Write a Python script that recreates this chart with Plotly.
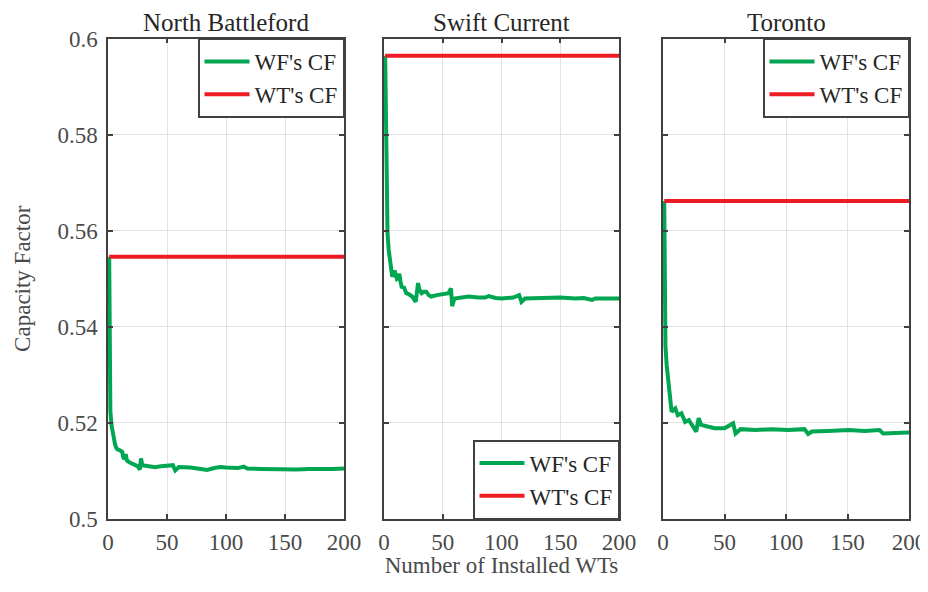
import plotly.graph_objects as go

# ---------------- data ----------------
locations = ["North Battleford", "Swift Current", "Toronto"]
wt_cf = [0.5546, 0.5964, 0.5662]  # single wind turbine capacity factor

n_nb = [1, 2, 3, 4, 5, 6, 7, 8, 10, 12, 13, 14, 15, 16, 18, 20, 22, 25, 27, 28,
        29, 31, 35, 40, 45, 50, 55, 57, 60, 70, 80, 84, 90, 95, 100, 110, 115, 118, 130, 140,
        150, 160, 170, 180, 190, 200]
cf_nb = [0.5546, 0.5225, 0.5195, 0.5178, 0.5165, 0.5155, 0.5148, 0.5145, 0.5143, 0.5140,
         0.5128, 0.5125, 0.5135, 0.5122, 0.5118, 0.5116, 0.5115, 0.5110, 0.5103, 0.5126,
         0.5112, 0.5111, 0.5110, 0.5108, 0.5110, 0.5110, 0.5112, 0.5101, 0.5108, 0.5107,
         0.5104, 0.5102, 0.5106, 0.5108, 0.5107, 0.5106, 0.5109, 0.5105, 0.5104, 0.5103,
         0.5103, 0.5103, 0.5104, 0.5103, 0.5104, 0.5105]

n_sc = [1, 2, 3, 4, 5, 6, 7, 8, 9, 10, 11, 12, 13, 14, 15, 17, 19, 21, 24, 27,
        28, 29, 30, 32, 34, 36, 38, 40, 45, 50, 55, 57, 58, 60, 65, 72, 80, 86, 89, 95,
        100, 110, 115, 117, 120, 135, 150, 163, 170, 177, 180, 190, 200]
cf_sc = [0.5964, 0.5650, 0.5595, 0.5560, 0.5538, 0.5520, 0.5504, 0.5512, 0.5517, 0.5508,
         0.5500, 0.5502, 0.5510, 0.5495, 0.5483, 0.5482, 0.5470, 0.5468, 0.5463, 0.5452,
         0.5475, 0.5491, 0.5478, 0.5470, 0.5473, 0.5473, 0.5466, 0.5463, 0.5466, 0.5468,
         0.5470, 0.5480, 0.5443, 0.5459, 0.5461, 0.5463, 0.5461, 0.5461, 0.5464, 0.5460,
         0.5459, 0.5461, 0.5466, 0.5452, 0.5459, 0.5461, 0.5461, 0.5459, 0.5460, 0.5456,
         0.5459, 0.5459, 0.5459]

n_to = [1, 2, 3, 4, 5, 7, 10, 12, 15, 18, 21, 23, 27, 29, 31, 37, 42, 50, 57, 59,
        63, 75, 88, 102, 115, 118, 121, 134, 151, 164, 176, 179, 190, 200]
cf_to = [0.5662, 0.5360, 0.5320, 0.5290, 0.5265, 0.5223, 0.5230, 0.5216, 0.5220, 0.5202,
         0.5206, 0.5199, 0.5182, 0.5210, 0.5196, 0.5192, 0.5189, 0.5189, 0.5199, 0.5178,
         0.5187, 0.5185, 0.5187, 0.5185, 0.5187, 0.5177, 0.5182, 0.5183, 0.5185, 0.5183,
         0.5185, 0.5178, 0.5180, 0.5180]

n_series = [n_nb, n_sc, n_to]
cf_series = [cf_nb, cf_sc, cf_to]

x_ticks = [0, 50, 100, 150, 200]
y_ticks = [0.5, 0.52, 0.54, 0.56, 0.58, 0.6]
y_ticktext = ["0.5", "0.52", "0.54", "0.56", "0.58", "0.6"]

# ---------------- style ----------------
FONT = "Liberation Serif"
GREEN = "#00a651"
RED = "#ed1c24"
AXC = "#404040"
TXT = "#4a4a4a"
GRID = "#e2e2e2"
W, H = 928, 570
OFF = 8  # page body margin


def px_x(p):
    return (p - OFF) / W


def px_y(p):
    return 1 - (p - OFF) / H


x_domains = [(px_x(108), px_x(344)), (px_x(384), px_x(619)), (px_x(663), px_x(909))]
y_domain = (px_y(519), px_y(38.5))

fig = go.Figure()
legend_names = ["legend", "legend2", "legend3"]

for i in range(3):
    xa = "x" if i == 0 else f"x{i+1}"
    ya = "y" if i == 0 else f"y{i+1}"
    fig.add_trace(go.Scatter(
        x=n_series[i], y=cf_series[i], mode="lines", name="WF's CF",
        line=dict(color=GREEN, width=4), xaxis=xa, yaxis=ya,
        legend=legend_names[i]))
    fig.add_trace(go.Scatter(
        x=[n_series[i][0], n_series[i][-1]], y=[wt_cf[i], wt_cf[i]], mode="lines",
        name="WT's CF", line=dict(color=RED, width=4), xaxis=xa, yaxis=ya,
        legend=legend_names[i]))

axis_common = dict(
    showline=True, linecolor=AXC, linewidth=1.5, mirror="ticks",
    ticks="inside", ticklen=5, tickwidth=1.5, tickcolor=AXC,
    showgrid=True, gridcolor=GRID, gridwidth=1.2, zeroline=False,
    automargin=False, ticklabeloverflow="allow",
    tickfont=dict(family=FONT, size=23, color=TXT),
)

layout = dict(
    width=W, height=H,
    margin=dict(l=0, r=0, t=0, b=0),
    paper_bgcolor="white", plot_bgcolor="white",
    font=dict(family=FONT, size=22, color=TXT),
    annotations=[],
)

for i in range(3):
    xk = "xaxis" if i == 0 else f"xaxis{i+1}"
    yk = "yaxis" if i == 0 else f"yaxis{i+1}"
    layout[xk] = dict(axis_common, domain=list(x_domains[i]), range=[0, 200],
                      tickvals=x_ticks, anchor="y" if i == 0 else f"y{i+1}",
                      ticklabelstandoff=2)
    layout[yk] = dict(axis_common, domain=list(y_domain), range=[0.5, 0.6],
                      tickvals=y_ticks, ticktext=y_ticktext,
                      showticklabels=(i == 0),
                      anchor="x" if i == 0 else f"x{i+1}",
                      ticklabelstandoff=4)
    layout["annotations"].append(dict(
        text=locations[i], xref="paper", yref="paper",
        x=(x_domains[i][0] + x_domains[i][1]) / 2, y=y_domain[1],
        xanchor="center", yanchor="bottom", yshift=1, showarrow=False,
        font=dict(family=FONT, size=25, color="#262626")))

layout["yaxis"]["title"] = dict(text="Capacity Factor", standoff=20,
                                font=dict(family=FONT, size=23, color=TXT))
layout["xaxis2"]["title"] = dict(text="Number of Installed WTs", standoff=12,
                                 font=dict(family=FONT, size=23, color=TXT))

leg_common = dict(bgcolor="white", bordercolor=AXC, borderwidth=1.5,
                  font=dict(family=FONT, size=23, color="#262626"),
                  tracegroupgap=0, itemwidth=45)
layout["legend"] = dict(leg_common, x=x_domains[0][1], y=y_domain[1],
                        xanchor="right", yanchor="top")
layout["legend2"] = dict(leg_common, x=x_domains[1][1], y=y_domain[0],
                         xanchor="right", yanchor="bottom")
layout["legend3"] = dict(leg_common, x=x_domains[2][1], y=y_domain[1],
                         xanchor="right", yanchor="top")
layout["showlegend"] = True

fig.update_layout(**layout)
fig.write_html("out.html")
